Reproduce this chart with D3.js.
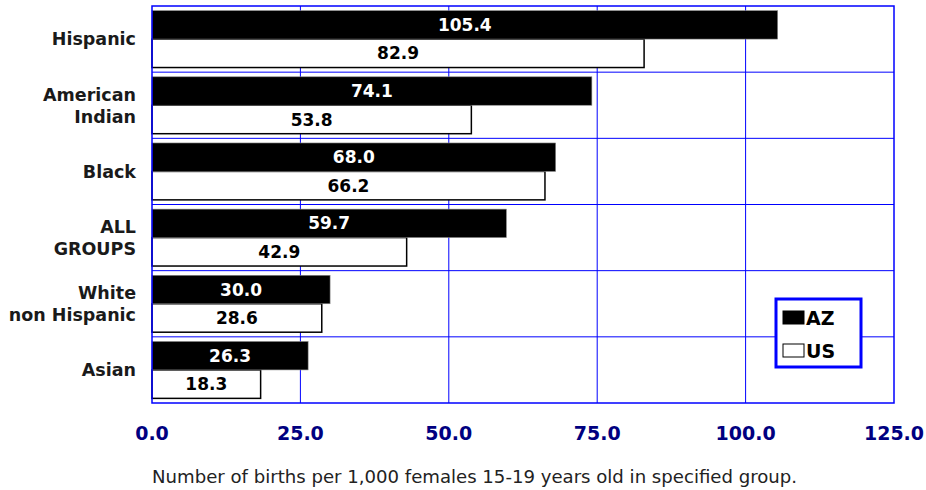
<!DOCTYPE html>
<html>
<head>
<meta charset="utf-8">
<script src="https://cdn.jsdelivr.net/npm/d3@7"></script>
<style>
  body { margin: 0; background: #fff; }
  svg { display: block; }
</style>
</head>
<body>
<svg id="chart"></svg>
<script>
// data
const groups = ["Hispanic", "American\nIndian", "Black", "ALL\nGROUPS", "White\nnon Hispanic", "Asian"];
const azValues = [105.4, 74.1, 68.0, 59.7, 30.0, 26.3];
const usValues = [82.9, 53.8, 66.2, 42.9, 28.6, 18.3];
const seriesNames = ["AZ", "US"];
const xTicks = [0, 25, 50, 75, 100, 125];
const caption = "Number of births per 1,000 females 15-19 years old in specified group.";

const width = 926, height = 490;
const plot = {left: 152, right: 894, top: 6, bottom: 403};
const font = "'DejaVu Sans', Verdana, sans-serif";

const svg = d3.select("#chart").attr("width", width).attr("height", height);

const x = d3.scaleLinear().domain([0, 125]).range([plot.left, plot.right]);
const y = d3.scaleBand().domain(groups).range([plot.top, plot.bottom])
    .paddingInner(0.14).paddingOuter(0.07);
const ySub = d3.scaleBand().domain(seriesNames).range([0, y.bandwidth()]);

// grid lines (blue)
const step = y.step();
svg.append("g").selectAll("line.v")
  .data(xTicks.slice(1, -1))
  .enter().append("line")
  .attr("x1", d => x(d)).attr("x2", d => x(d))
  .attr("y1", plot.top).attr("y2", plot.bottom)
  .attr("stroke", "#0000ff").attr("stroke-width", 1);

svg.append("g").selectAll("line.h")
  .data(groups.slice(1))
  .enter().append("line")
  .attr("x1", plot.left).attr("x2", plot.right)
  .attr("y1", d => y(d) - y.paddingInner() * step / 2)
  .attr("y2", d => y(d) - y.paddingInner() * step / 2)
  .attr("stroke", "#0000ff").attr("stroke-width", 1);

// bars
const rows = groups.map((g, i) => ({group: g, AZ: azValues[i], US: usValues[i]}));

const gBars = svg.append("g").selectAll("g")
  .data(rows)
  .enter().append("g")
  .attr("transform", d => `translate(0,${y(d.group)})`);

// US first so the AZ bar sits on top of it
gBars.append("rect")
  .attr("x", x(0))
  .attr("y", ySub("US"))
  .attr("width", d => x(d.US) - x(0))
  .attr("height", ySub.bandwidth())
  .attr("fill", "#fff")
  .attr("stroke", "#000").attr("stroke-width", 1.5);

gBars.append("rect")
  .attr("x", x(0))
  .attr("y", ySub("AZ"))
  .attr("width", d => x(d.AZ) - x(0))
  .attr("height", ySub.bandwidth())
  .attr("fill", "#000")
  .attr("stroke", "#888").attr("stroke-width", 0.6);

// value labels inside the bars
gBars.append("text")
  .attr("x", d => (x(0) + x(d.AZ)) / 2)
  .attr("y", ySub("AZ") + ySub.bandwidth() / 2)
  .attr("dy", "0.36em")
  .attr("text-anchor", "middle")
  .attr("fill", "#fff")
  .style("font", `bold 17px ${font}`)
  .text(d => d.AZ.toFixed(1));

gBars.append("text")
  .attr("x", d => (x(0) + x(d.US)) / 2)
  .attr("y", ySub("US") + ySub.bandwidth() / 2)
  .attr("dy", "0.36em")
  .attr("text-anchor", "middle")
  .attr("fill", "#000")
  .style("font", `bold 17px ${font}`)
  .text(d => d.US.toFixed(1));

// plot border
svg.append("rect")
  .attr("x", plot.left).attr("y", plot.top)
  .attr("width", plot.right - plot.left).attr("height", plot.bottom - plot.top)
  .attr("fill", "none").attr("stroke", "#0000ff").attr("stroke-width", 1.5);

// category labels
const cat = svg.append("g").selectAll("text")
  .data(groups)
  .enter().append("text")
  .attr("text-anchor", "end")
  .attr("fill", "#1a1a1a")
  .style("font", `bold 17.5px ${font}`)
  .attr("transform", d => `translate(136,${y(d) + y.bandwidth() / 2})`);

cat.each(function(d) {
  const lines = d.split("\n");
  const t = d3.select(this);
  lines.forEach((ln, i) => {
    t.append("tspan")
      .attr("x", 0)
      .attr("y", (i - (lines.length - 1) / 2) * 22)
      .attr("dy", "0.36em")
      .text(ln);
  });
});

// x axis tick labels
svg.append("g").selectAll("text")
  .data(xTicks)
  .enter().append("text")
  .attr("x", d => x(d))
  .attr("y", 440)
  .attr("text-anchor", "middle")
  .attr("fill", "#000080")
  .style("font", `bold 19px ${font}`)
  .text(d => d.toFixed(1));

// caption
svg.append("text")
  .attr("x", 152).attr("y", 483)
  .attr("fill", "#222")
  .attr("textLength", 645)
  .attr("lengthAdjust", "spacingAndGlyphs")
  .style("font", "17px 'DejaVu Sans Condensed', 'Liberation Sans Narrow', sans-serif")
  .text(caption);

// legend
const legend = svg.append("g").attr("transform", "translate(776,299)");
legend.append("rect")
  .attr("width", 85).attr("height", 68)
  .attr("fill", "#fff").attr("stroke", "#0000ff").attr("stroke-width", 3);

const leg = legend.selectAll("g")
  .data(seriesNames)
  .enter().append("g")
  .attr("transform", (d, i) => `translate(7,${12 + i * 33})`);

leg.append("rect")
  .attr("width", 21).attr("height", 13)
  .attr("fill", d => d === "AZ" ? "#000" : "#fff")
  .attr("stroke", "#000").attr("stroke-width", 1);

leg.append("text")
  .attr("x", 23).attr("y", 14)
  .attr("fill", "#000")
  .style("font", `bold 19px ${font}`)
  .text(d => d);
</script>
</body>
</html>
